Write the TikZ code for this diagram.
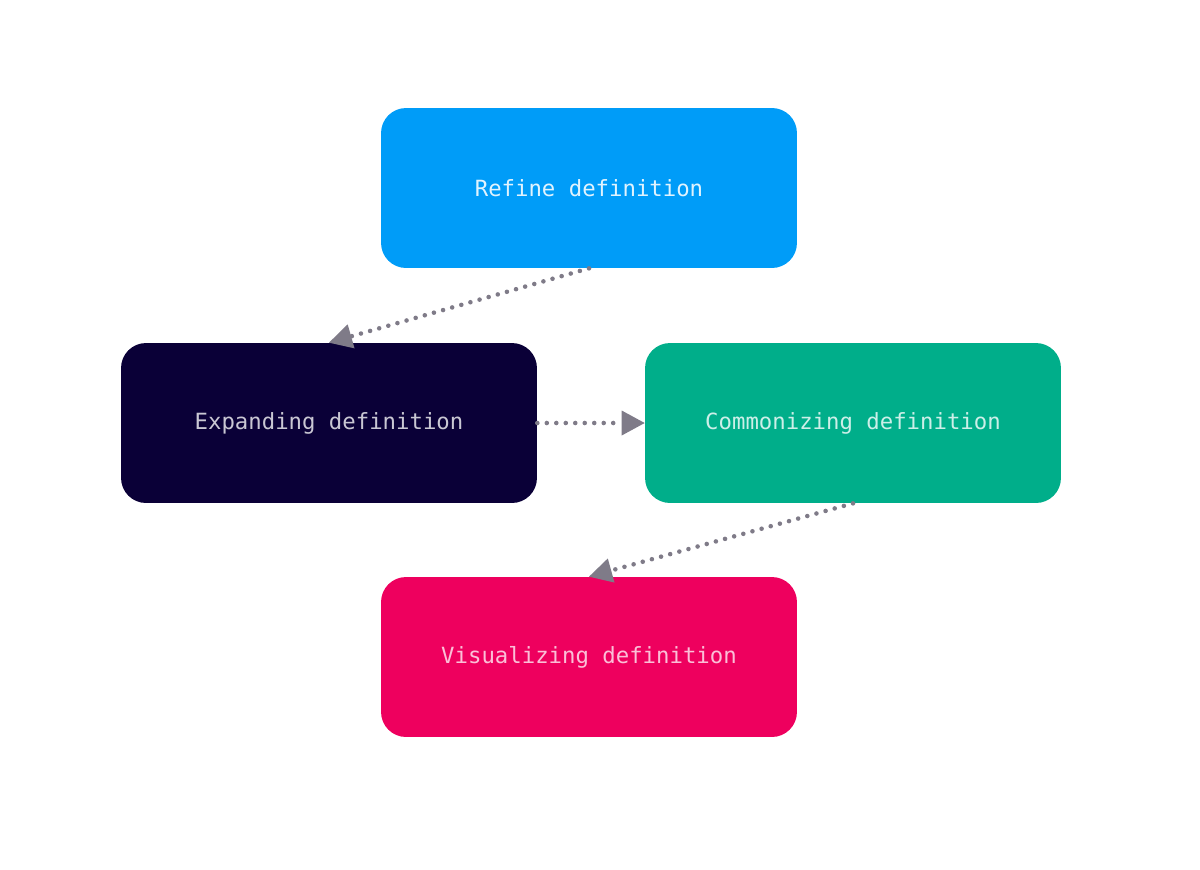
\documentclass[tikz,border=0pt]{standalone}
\usepackage{fontspec}
\setmonofont{DejaVu Sans Mono}
\usetikzlibrary{arrows.meta}
\definecolor{blu}{HTML}{009CF8}
\definecolor{notte}{HTML}{0A0037}
\definecolor{verde}{HTML}{00AE8A}
\definecolor{rosa}{HTML}{EE005E}
\definecolor{grigio}{HTML}{7F7B88}
\begin{document}
\begin{tikzpicture}[x=0.02cm,y=-0.02cm,
    font=\ttfamily\fontsize{12.7}{15}\selectfont,
    blocco/.style={rounded corners=0.5cm,minimum width=8.32cm,minimum height=3.2cm,inner sep=0pt},
    freccia/.style={grigio,line width=2.6pt,line cap=round,dash pattern=on 0pt off 5.4pt,
      -{Triangle[length=0.46cm,width=0.5cm,line cap=butt,line width=0pt]}}]
    \useasboundingbox (0,0) rectangle (1200,869); %area dell'immagine
    \node[blocco,fill=blu,text=blu!12] (refine) at (589,188) {Refine definition};
    \node[blocco,fill=notte,text=white!78!notte] (expand) at (329,423) {Expanding definition};
    \node[blocco,fill=verde,text=verde!20] (common) at (853,423) {Commonizing definition};
    \node[blocco,fill=rosa,text=rosa!25] (visual) at (589,657) {Visualizing definition};
    \draw[freccia] (refine.south) -- (expand.north); %dall'alto a sinistra
    \draw[freccia] (expand.east) -- (common.west);
    \draw[freccia] (common.south) -- (visual.north); %verso il basso
  \end{tikzpicture}
\end{document}
